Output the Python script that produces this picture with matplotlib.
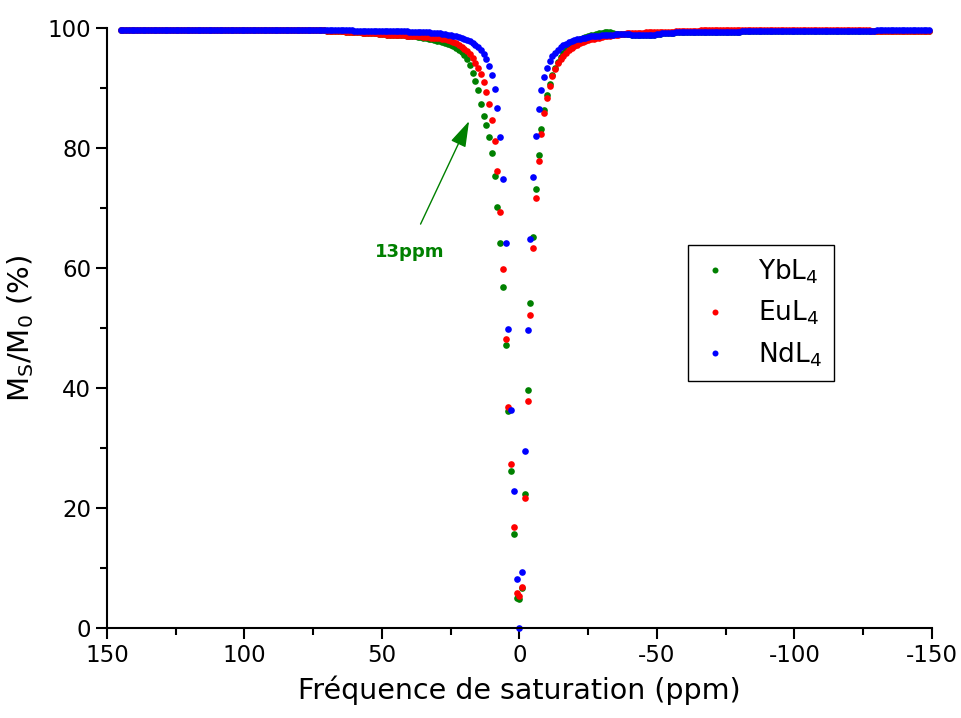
import numpy as np
import matplotlib
matplotlib.use("Agg")
import matplotlib.pyplot as plt
from matplotlib.ticker import MultipleLocator

plt.rcParams['font.family'] = ['DejaVu Sans']
plt.rcParams['mathtext.fontset'] = 'dejavusans'
plt.rcParams['axes.unicode_minus'] = False

# saturation offsets, 1 ppm step, from +145 down to -149 ppm
ppm = np.arange(145, -150, -1)

ybl4 = [
    99.6, 99.6, 99.6, 99.6, 99.6, 99.6, 99.6, 99.6, 99.6, 99.6,   # 145..136
    99.6, 99.6, 99.6, 99.6, 99.6, 99.6, 99.6, 99.6, 99.6, 99.6,   # 135..126
    99.6, 99.6, 99.6, 99.6, 99.6, 99.6, 99.6, 99.6, 99.6, 99.6,   # 125..116
    99.6, 99.6, 99.6, 99.6, 99.6, 99.6, 99.6, 99.6, 99.6, 99.6,   # 115..106
    99.6, 99.6, 99.6, 99.6, 99.6, 99.6, 99.6, 99.6, 99.6, 99.6,   # 105..96
    99.6, 99.6, 99.6, 99.6, 99.6, 99.6, 99.6, 99.6, 99.6, 99.6,   # 95..86
    99.6, 99.6, 99.6, 99.6, 99.6, 99.6, 99.6, 99.6, 99.6, 99.6,   # 85..76
    99.6, 99.6, 99.6, 99.6, 99.6, 99.5, 99.5, 99.5, 99.5, 99.5,   # 75..66
    99.5, 99.5, 99.4, 99.4, 99.4, 99.3, 99.3, 99.3, 99.2, 99.2,   # 65..56
    99.2, 99.1, 99.1, 99.1, 99.0, 99.0, 99.0, 98.9, 98.9, 98.9,   # 55..46
    98.9, 98.8, 98.8, 98.8, 98.7, 98.7, 98.6, 98.6, 98.5, 98.5,   # 45..36
    98.4, 98.3, 98.2, 98.1, 98.0, 97.9, 97.8, 97.6, 97.5, 97.3,   # 35..26
    97.2, 97.0, 96.7, 96.4, 96.0, 95.5, 94.8, 93.8, 92.5, 91.2,   # 25..16
    89.6, 87.4, 85.3, 83.8, 81.9, 79.1, 75.3, 70.2, 64.2, 56.9,   # 15..6
    47.1, 36.1, 26.1, 15.7, 5.0, 4.9, 6.6, 22.4, 39.7, 54.1,      # 5..-4
    65.2, 73.1, 78.8, 83.2, 86.3, 88.8, 90.6, 92.1, 93.3, 94.3,   # -5..-14
    95.1, 95.8, 96.3, 96.8, 97.2, 97.5, 97.8, 98.1, 98.3, 98.5,   # -15..-24
    98.7, 98.8, 98.9, 99.0, 99.1, 99.2, 99.3, 99.3, 99.3, 99.2,   # -25..-34
    99.0, 99.0, 99.0, 99.0, 99.0, 99.0, 98.9, 98.9, 98.9, 98.9,   # -35..-44
    98.9, 98.9, 98.9, 98.9, 98.9, 99.0, 99.0, 99.1, 99.1, 99.2,   # -45..-54
    99.2, 99.2, 99.3, 99.3, 99.3, 99.3, 99.4, 99.4, 99.4, 99.4,   # -55..-64
    99.4, 99.4, 99.4, 99.4, 99.4, 99.4, 99.4, 99.4, 99.4, 99.4,   # -65..-74
    99.4, 99.4, 99.4, 99.4, 99.4, 99.4, 99.5, 99.5, 99.5, 99.5,   # -75..-84
    99.5, 99.5, 99.5, 99.5, 99.5, 99.5, 99.5, 99.5, 99.5, 99.5,   # -85..-94
    99.5, 99.5, 99.5, 99.5, 99.5, 99.5, 99.5, 99.5, 99.5, 99.5,   # -95..-104
    99.5, 99.5, 99.5, 99.5, 99.5, 99.5, 99.5, 99.5, 99.5, 99.5,   # -105..-114
    99.5, 99.5, 99.5, 99.5, 99.5, 99.5, 99.5, 99.5, 99.5, 99.5,   # -115..-124
    99.5, 99.5, 99.5, 99.5, 99.5, 99.5, 99.5, 99.5, 99.5, 99.5,   # -125..-134
    99.5, 99.5, 99.5, 99.5, 99.5, 99.5, 99.5, 99.5, 99.5, 99.5,   # -135..-144
    99.5, 99.5, 99.5, 99.5, 99.5,                                 # -145..-149
]

eul4 = [
    99.6, 99.6, 99.6, 99.6, 99.6, 99.6, 99.6, 99.6, 99.6, 99.6,   # 145..136
    99.6, 99.6, 99.6, 99.6, 99.6, 99.6, 99.6, 99.6, 99.6, 99.6,   # 135..126
    99.6, 99.6, 99.6, 99.6, 99.6, 99.6, 99.6, 99.6, 99.6, 99.6,   # 125..116
    99.6, 99.6, 99.6, 99.6, 99.6, 99.6, 99.6, 99.6, 99.6, 99.6,   # 115..106
    99.6, 99.6, 99.6, 99.6, 99.6, 99.6, 99.6, 99.6, 99.6, 99.6,   # 105..96
    99.6, 99.6, 99.6, 99.6, 99.6, 99.6, 99.6, 99.6, 99.6, 99.6,   # 95..86
    99.6, 99.6, 99.6, 99.6, 99.6, 99.6, 99.6, 99.6, 99.6, 99.6,   # 85..76
    99.6, 99.6, 99.6, 99.6, 99.6, 99.5, 99.5, 99.5, 99.5, 99.5,   # 75..66
    99.5, 99.5, 99.4, 99.4, 99.4, 99.3, 99.3, 99.3, 99.2, 99.2,   # 65..56
    99.2, 99.1, 99.1, 99.1, 99.0, 99.0, 99.0, 98.9, 98.9, 98.9,   # 55..46
    98.9, 98.8, 98.8, 98.8, 98.7, 98.7, 98.7, 98.6, 98.6, 98.6,   # 45..36
    98.5, 98.5, 98.5, 98.4, 98.4, 98.3, 98.3, 98.2, 98.1, 98.0,   # 35..26
    97.9, 97.7, 97.5, 97.2, 96.9, 96.5, 96.1, 95.6, 95.0, 94.2,   # 25..16
    93.3, 92.3, 91.0, 89.4, 87.3, 84.6, 81.1, 76.2, 69.3, 59.8,   # 15..6
    48.2, 36.8, 27.4, 16.9, 5.9, 5.3, 6.8, 21.6, 37.9, 52.2,      # 5..-4
    63.3, 71.7, 77.8, 82.4, 85.8, 88.4, 90.4, 92.0, 93.1, 94.1,   # -5..-14
    94.8, 95.4, 95.9, 96.3, 96.7, 97.0, 97.2, 97.5, 97.7, 97.9,   # -15..-24
    98.0, 98.1, 98.2, 98.3, 98.4, 98.5, 98.6, 98.6, 98.7, 98.8,   # -25..-34
    98.9, 98.9, 99.0, 99.0, 99.1, 99.1, 99.1, 99.2, 99.2, 99.2,   # -35..-44
    99.2, 99.3, 99.3, 99.3, 99.3, 99.3, 99.4, 99.4, 99.4, 99.4,   # -45..-54
    99.4, 99.4, 99.5, 99.5, 99.5, 99.5, 99.5, 99.5, 99.5, 99.5,   # -55..-64
    99.5, 99.6, 99.6, 99.6, 99.6, 99.6, 99.6, 99.6, 99.6, 99.6,   # -65..-74
    99.6, 99.6, 99.6, 99.7, 99.7, 99.7, 99.7, 99.7, 99.7, 99.7,   # -75..-84
    99.7, 99.7, 99.7, 99.7, 99.7, 99.7, 99.7, 99.7, 99.7, 99.7,   # -85..-94
    99.7, 99.7, 99.7, 99.7, 99.7, 99.7, 99.7, 99.7, 99.7, 99.7,   # -95..-104
    99.7, 99.7, 99.7, 99.7, 99.7, 99.7, 99.7, 99.7, 99.7, 99.7,   # -105..-114
    99.7, 99.7, 99.7, 99.7, 99.7, 99.7, 99.7, 99.7, 99.7, 99.7,   # -115..-124
    99.6, 99.6, 99.6, 99.5, 99.5, 99.5, 99.5, 99.5, 99.5, 99.5,   # -125..-134
    99.5, 99.5, 99.5, 99.5, 99.5, 99.5, 99.5, 99.5, 99.5, 99.5,   # -135..-144
    99.5, 99.5, 99.5, 99.5, 99.5,                                 # -145..-149
]

ndl4 = [
    99.6, 99.6, 99.6, 99.6, 99.6, 99.6, 99.6, 99.6, 99.6, 99.6,   # 145..136
    99.6, 99.6, 99.6, 99.6, 99.6, 99.6, 99.6, 99.6, 99.6, 99.6,   # 135..126
    99.6, 99.6, 99.6, 99.6, 99.6, 99.6, 99.6, 99.6, 99.6, 99.6,   # 125..116
    99.6, 99.6, 99.6, 99.6, 99.6, 99.6, 99.6, 99.6, 99.6, 99.6,   # 115..106
    99.6, 99.6, 99.6, 99.6, 99.6, 99.6, 99.6, 99.6, 99.6, 99.6,   # 105..96
    99.6, 99.6, 99.6, 99.6, 99.6, 99.6, 99.6, 99.6, 99.6, 99.6,   # 95..86
    99.6, 99.6, 99.6, 99.6, 99.6, 99.6, 99.6, 99.6, 99.6, 99.6,   # 85..76
    99.6, 99.6, 99.6, 99.6, 99.6, 99.6, 99.6, 99.6, 99.6, 99.6,   # 75..66
    99.6, 99.6, 99.6, 99.6, 99.6, 99.5, 99.5, 99.5, 99.5, 99.5,   # 65..56
    99.5, 99.5, 99.5, 99.5, 99.5, 99.5, 99.5, 99.5, 99.5, 99.5,   # 55..46
    99.5, 99.5, 99.5, 99.5, 99.5, 99.4, 99.4, 99.4, 99.4, 99.4,   # 45..36
    99.3, 99.3, 99.3, 99.2, 99.2, 99.1, 99.1, 99.0, 99.0, 98.9,   # 35..26
    98.8, 98.7, 98.6, 98.5, 98.3, 98.2, 98.0, 97.8, 97.5, 97.2,   # 25..16
    96.8, 96.3, 95.7, 94.8, 93.6, 92.1, 89.8, 86.7, 81.9, 74.9,   # 15..6
    64.1, 49.8, 36.4, 22.8, 8.1, 0.0, 9.4, 29.5, 49.7, 64.9,      # 5..-4
    75.2, 82.0, 86.5, 89.6, 91.8, 93.3, 94.5, 95.3, 95.9, 96.4,   # -5..-14
    96.8, 97.1, 97.4, 97.6, 97.8, 98.0, 98.1, 98.2, 98.3, 98.4,   # -15..-24
    98.5, 98.6, 98.6, 98.7, 98.7, 98.8, 98.8, 98.9, 98.9, 98.9,   # -25..-34
    99.0, 99.0, 99.0, 99.0, 99.0, 99.0, 98.9, 98.9, 98.9, 98.9,   # -35..-44
    98.9, 98.9, 98.9, 98.9, 98.9, 99.0, 99.0, 99.1, 99.1, 99.2,   # -45..-54
    99.2, 99.2, 99.3, 99.3, 99.3, 99.3, 99.4, 99.4, 99.4, 99.4,   # -55..-64
    99.4, 99.4, 99.4, 99.4, 99.4, 99.4, 99.4, 99.4, 99.4, 99.4,   # -65..-74
    99.4, 99.4, 99.4, 99.4, 99.4, 99.4, 99.5, 99.5, 99.5, 99.5,   # -75..-84
    99.5, 99.5, 99.5, 99.5, 99.5, 99.5, 99.5, 99.5, 99.5, 99.5,   # -85..-94
    99.5, 99.5, 99.5, 99.5, 99.5, 99.5, 99.5, 99.5, 99.5, 99.5,   # -95..-104
    99.5, 99.5, 99.5, 99.5, 99.5, 99.5, 99.5, 99.5, 99.5, 99.5,   # -105..-114
    99.5, 99.5, 99.5, 99.5, 99.5, 99.5, 99.5, 99.5, 99.5, 99.5,   # -115..-124
    99.5, 99.5, 99.5, 99.5, 99.5, 99.6, 99.6, 99.6, 99.6, 99.6,   # -125..-134
    99.6, 99.6, 99.6, 99.6, 99.6, 99.6, 99.6, 99.6, 99.6, 99.6,   # -135..-144
    99.6, 99.6, 99.6, 99.6, 99.6,                                 # -145..-149
]

series = [
    (ybl4, r'YbL$_\mathregular{4}$', '#008000'),
    (eul4, r'EuL$_\mathregular{4}$', '#ff0000'),
    (ndl4, r'NdL$_\mathregular{4}$', '#0000ff'),
]

fig = plt.figure(figsize=(9.62, 7.18), dpi=100)
ax = fig.add_axes([0.1112, 0.1253, 0.8576, 0.8357])

for vals, lab, col in series:
    ax.plot(ppm, vals, linestyle='none', marker='o', ms=4.8, mew=0,
            color=col, label=lab, clip_on=False)

ax.set_xlim(150, -150)
ax.set_ylim(0, 100)
ax.xaxis.set_major_locator(MultipleLocator(50))
ax.xaxis.set_minor_locator(MultipleLocator(25))
ax.yaxis.set_major_locator(MultipleLocator(20))
ax.yaxis.set_minor_locator(MultipleLocator(10))
ax.tick_params(which='major', direction='out', length=8, width=1.5, labelsize=16.5)
ax.tick_params(which='minor', direction='out', length=5, width=1.5)
for s in ['top', 'right']:
    ax.spines[s].set_visible(False)
for s in ['left', 'bottom']:
    ax.spines[s].set_linewidth(1.5)

ax.set_xlabel('Fréquence de saturation (ppm)', fontsize=20.5, labelpad=6)
ax.set_ylabel(r'M$_\mathregular{S}$/M$_\mathregular{0}$ (%)', fontsize=21, labelpad=8)

ax.annotate('', xy=(17.9, 84.9), xytext=(36.4, 66.9),
            arrowprops=dict(arrowstyle='-|>,head_length=0.8,head_width=0.25',
                            color='#008000', lw=1, mutation_scale=20))
ax.text(40, 62.7, '13ppm', ha='center', va='center', color='#008000',
        fontweight='bold', fontsize=13)

leg = ax.legend(loc='upper left', bbox_to_anchor=(0.704, 0.638), fontsize=19,
                frameon=True, fancybox=False, edgecolor='black', framealpha=1,
                handlelength=1.2, handletextpad=1.0, borderpad=0.45,
                labelspacing=0.5, borderaxespad=0, markerscale=0.9)
leg.get_frame().set_linewidth(1.0)

fig.savefig('out.png', dpi=100)
